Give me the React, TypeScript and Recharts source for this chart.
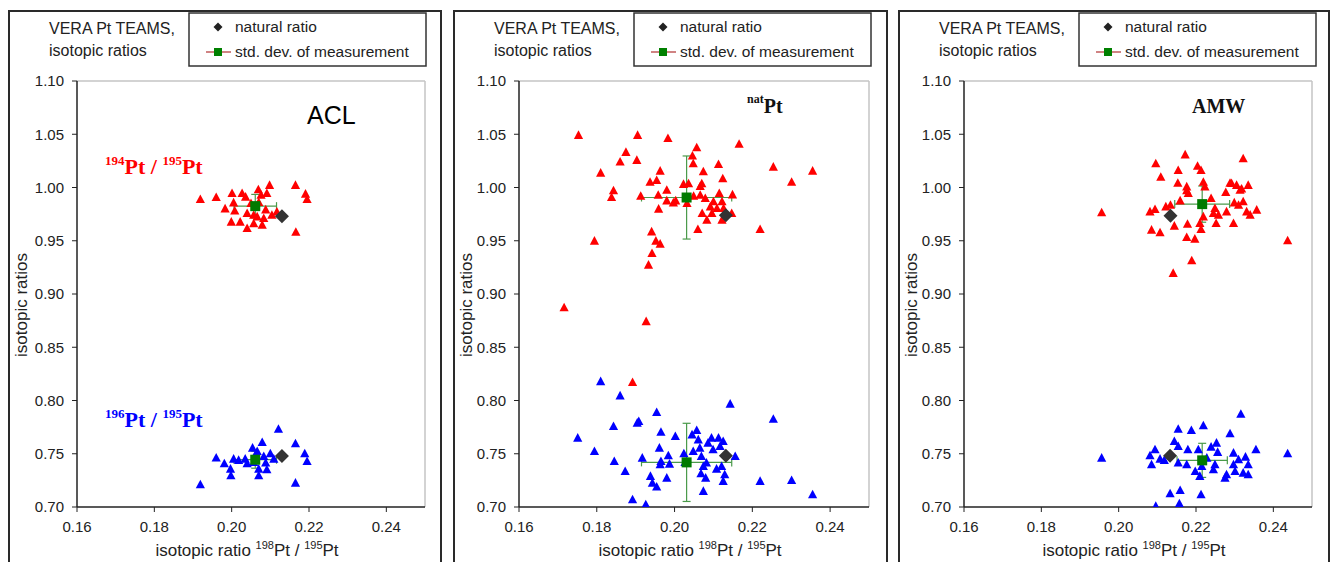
import React from "react";
import { ScatterChart, Scatter, XAxis, YAxis, ErrorBar, ReferenceLine } from "recharts";

type Pt = [number, number];

// ---- ACL ----
const aclRatio194: Pt[] = [
  [0.1919, 0.9888], [0.196, 0.9906], [0.1983, 0.98], [0.2001, 0.9944], [0.2005, 0.9856],
  [0.2008, 0.978], [0.1999, 0.9675], [0.2022, 0.9675], [0.2027, 0.9944], [0.2036, 0.991],
  [0.204, 0.9756], [0.204, 0.9616], [0.2057, 0.966], [0.2066, 0.9725], [0.2069, 0.998],
  [0.2079, 0.9647], [0.2083, 0.971], [0.2088, 0.979], [0.2091, 0.9944], [0.2098, 1.002],
  [0.2076, 0.9928], [0.2104, 0.974], [0.2117, 0.977], [0.2165, 1.002], [0.2191, 0.9938],
  [0.2195, 0.9888], [0.2166, 0.958], [0.2057, 0.974], [0.205, 0.985], [0.207, 0.986],
];
const aclRatio196: Pt[] = [
  [0.1919, 0.7209], [0.196, 0.746], [0.1981, 0.7406], [0.1997, 0.7356], [0.1998, 0.7294],
  [0.2005, 0.745], [0.2018, 0.7438], [0.2035, 0.745], [0.204, 0.7406], [0.2054, 0.7553],
  [0.2066, 0.7522], [0.207, 0.7356], [0.207, 0.7294], [0.2079, 0.7606], [0.2083, 0.7475],
  [0.2088, 0.7413], [0.2091, 0.735], [0.21, 0.75], [0.2109, 0.745], [0.2121, 0.7731],
  [0.2165, 0.7594], [0.2189, 0.75], [0.2195, 0.7428], [0.2165, 0.7225], [0.2057, 0.7419],
];
const aclMean = [
  { x: 0.2061, y: 0.9825, ex: 0.0055, ey: 0.011 },
  { x: 0.2061, y: 0.7444, ex: 0.0055, ey: 0.008 },
];
const aclNatural: Pt[] = [[0.213, 0.9731], [0.213, 0.748]];

// ---- natPt ----
const natRatio194: Pt[] = [
  [0.1753, 1.049], [0.181, 1.0135], [0.186, 1.024], [0.1875, 1.033], [0.1903, 1.0255],
  [0.1905, 1.049], [0.1963, 1.0154], [0.1983, 1.046], [0.1937, 1.005], [0.1954, 1.0066],
  [0.2046, 1.0296], [0.2048, 1.0223], [0.2057, 1.0374], [0.2074, 1.0148], [0.2113, 1.0217],
  [0.2124, 1.0082], [0.2166, 1.0406], [0.2254, 1.0192], [0.2301, 1.005], [0.2355, 1.0154],
  [0.1843, 0.997], [0.2036, 1.0035], [0.207, 1.0035],
  [0.1838, 0.9906], [0.1913, 0.9919], [0.1958, 0.9928], [0.198, 0.9975], [0.198, 0.9875],
  [0.1997, 0.9856], [0.2003, 0.9875], [0.2023, 1.003], [0.2032, 0.985], [0.2049, 0.9919],
  [0.2066, 1.001], [0.2066, 0.9928], [0.2071, 0.9756], [0.2079, 0.9897], [0.2083, 0.9694],
  [0.2092, 0.9819], [0.2096, 0.9756], [0.21, 0.9866], [0.2109, 0.9803], [0.2115, 0.9944],
  [0.2122, 0.9866], [0.2122, 0.9694], [0.2126, 0.9803], [0.2149, 0.9931], [0.2147, 0.9756],
  [0.1959, 0.9797], [0.1941, 0.9584], [0.1952, 0.9497], [0.1963, 0.9469], [0.1942, 0.9381],
  [0.1933, 0.9272], [0.1794, 0.9497], [0.1716, 0.8872], [0.1927, 0.8741], [0.206, 0.9606],
  [0.222, 0.9606], [0.1892, 0.8169],
];
const natRatio196: Pt[] = [
  [0.181, 0.8178], [0.186, 0.8044], [0.1954, 0.7888], [0.1904, 0.7788], [0.1908, 0.7803],
  [0.1843, 0.7756], [0.1751, 0.7647], [0.1794, 0.7522], [0.1845, 0.7428], [0.1873, 0.7334],
  [0.1917, 0.7459], [0.1938, 0.7288], [0.1943, 0.7225], [0.1954, 0.7188], [0.1961, 0.7553],
  [0.1965, 0.7703], [0.1963, 0.7397], [0.1965, 0.7428], [0.1984, 0.7481], [0.1987, 0.7403],
  [0.198, 0.7272], [0.2002, 0.7663], [0.2024, 0.75], [0.2048, 0.7522], [0.2045, 0.7678],
  [0.2057, 0.7719], [0.2061, 0.7631], [0.2065, 0.7553], [0.2069, 0.7475], [0.2068, 0.7313],
  [0.2074, 0.7381], [0.2074, 0.7147], [0.208, 0.7272], [0.2082, 0.7413], [0.2086, 0.76],
  [0.2095, 0.7647], [0.2099, 0.7538], [0.2108, 0.7356], [0.2113, 0.7647], [0.2117, 0.7569],
  [0.2121, 0.7381], [0.2125, 0.7616], [0.2129, 0.7303], [0.2125, 0.7241], [0.2143, 0.7966],
  [0.2156, 0.7475], [0.222, 0.7241], [0.2254, 0.7825], [0.2301, 0.725], [0.2355, 0.7116],
  [0.1892, 0.7069], [0.1926, 0.7022], [0.2027, 0.7419],
];
const natMean = [
  { x: 0.2031, y: 0.9906, ex: 0.0116, ey: 0.039 },
  { x: 0.2031, y: 0.7419, ex: 0.0116, ey: 0.0367 },
];
const natNatural: Pt[] = [[0.2132, 0.974], [0.2132, 0.7481]];

// ---- AMW ----
const amwRatio194: Pt[] = [
  [0.2096, 1.0223], [0.2109, 1.0097], [0.2172, 1.0307], [0.2154, 1.016], [0.2153, 1.004],
  [0.2176, 0.997], [0.2204, 1.02], [0.2213, 1.016], [0.2219, 1.005], [0.2288, 1.004],
  [0.2305, 1.002], [0.2318, 0.9987], [0.2322, 1.027], [0.2335, 1.002],
  [0.1956, 0.9763], [0.2081, 0.9772], [0.2094, 0.9794], [0.2085, 0.96], [0.2107, 0.9575],
  [0.2122, 0.9819], [0.2134, 0.9834], [0.2144, 0.9638], [0.2159, 0.9875], [0.2176, 1.0006],
  [0.218, 0.9944], [0.2178, 0.9656], [0.2176, 0.9531], [0.2197, 0.9516], [0.2189, 0.9313],
  [0.2141, 0.9194], [0.221, 0.9663], [0.2213, 0.9606], [0.2219, 0.9725], [0.2223, 1.0006],
  [0.2239, 0.9897], [0.2245, 0.9756], [0.2249, 0.9803], [0.2252, 0.9663], [0.2258, 0.9741],
  [0.2277, 0.9953], [0.2279, 0.9772], [0.2292, 1.0038], [0.2299, 0.9856], [0.2297, 0.9663],
  [0.231, 0.9834], [0.2314, 0.9975], [0.2322, 0.9866], [0.2331, 0.9772], [0.234, 0.9741],
  [0.2357, 0.9788], [0.2437, 0.95],
];
const amwRatio196: Pt[] = [
  [0.1956, 0.7459], [0.2081, 0.7481], [0.2085, 0.7397], [0.2094, 0.7538], [0.2096, 0.7006],
  [0.2107, 0.745], [0.2133, 0.7125], [0.2144, 0.7616], [0.2154, 0.7731], [0.2154, 0.7569],
  [0.2154, 0.7413], [0.2159, 0.7156], [0.2157, 0.7031], [0.2176, 0.7397], [0.2179, 0.7538],
  [0.2188, 0.7719], [0.2198, 0.7334], [0.2206, 0.7538], [0.221, 0.7288], [0.2213, 0.7116],
  [0.2219, 0.7763], [0.2215, 0.7381], [0.2228, 0.7459], [0.2239, 0.7563], [0.2245, 0.735],
  [0.2249, 0.7397], [0.2253, 0.76], [0.2256, 0.7513], [0.2275, 0.7272], [0.2279, 0.7303],
  [0.2288, 0.7688], [0.2297, 0.7506], [0.2297, 0.7397], [0.2301, 0.7334], [0.231, 0.7444],
  [0.2316, 0.7872], [0.2322, 0.7319], [0.2328, 0.7469], [0.2335, 0.7397], [0.2335, 0.7303],
  [0.2355, 0.7538], [0.2437, 0.75], [0.2118, 0.7438],
];
const amwMean = [
  { x: 0.2216, y: 0.9844, ex: 0.0071, ey: 0.017 },
  { x: 0.2216, y: 0.7438, ex: 0.0065, ey: 0.016 },
];
const amwNatural: Pt[] = [[0.2134, 0.9734], [0.2133, 0.7481]];

const xTicks = [0.16, 0.18, 0.2, 0.22, 0.24];
const yTicks = [0.7, 0.75, 0.8, 0.85, 0.9, 0.95, 1.0, 1.05, 1.1];

const SANS = "Arial, 'Liberation Sans', sans-serif";
const SERIF = "'Times New Roman', 'Liberation Serif', serif";

const toXY = (a: Pt[]) => a.map(([x, y]) => ({ x, y }));

const triangle = (color: string) => (p: any) => (
  <polygon
    points={`${p.cx},${p.cy - 5} ${p.cx - 4.6},${p.cy + 3.6} ${p.cx + 4.6},${p.cy + 3.6}`}
    fill={color}
  />
);
const diamond = (p: any) => (
  <polygon
    points={`${p.cx},${p.cy - 7} ${p.cx + 7},${p.cy} ${p.cx},${p.cy + 7} ${p.cx - 7},${p.cy}`}
    fill="#333"
  />
);
const square = (p: any) => <rect x={p.cx - 5} y={p.cy - 5} width={10} height={10} fill="#007a00" />;

const panels = [
  { left: 8, width: 434, plotLeft: 77, plotRight: 425, red: aclRatio194, blue: aclRatio196, mean: aclMean, nat: aclNatural, tag: "ACL" },
  { left: 453, width: 435, plotLeft: 519, plotRight: 869, red: natRatio194, blue: natRatio196, mean: natMean, nat: natNatural, tag: "nat" },
  { left: 898, width: 432, plotLeft: 964, plotRight: 1312, red: amwRatio194, blue: amwRatio196, mean: amwMean, nat: amwNatural, tag: "AMW" },
];

function Panel({ cfg }: { cfg: (typeof panels)[number] }) {
  const chartLeft = cfg.plotLeft - 70;
  const chartWidth = cfg.plotRight - chartLeft + 10;
  const ox = cfg.left;
  const plotMid = (cfg.plotLeft + cfg.plotRight) / 2 - ox - 4;
  return (
    <>
      <div
        style={{
          position: "absolute", left: cfg.left, top: 10, width: cfg.width, height: 600,
          border: "2px solid #2a2a2a", boxSizing: "border-box",
        }}
      />
      <div style={{ position: "absolute", left: chartLeft, top: 0 }}>
        <ScatterChart width={chartWidth} height={562} margin={{ top: 81, right: 10, bottom: 25, left: 0 }}>
          <XAxis
            type="number" dataKey="x" domain={[0.16, 0.25]} ticks={xTicks} allowDataOverflow
            tickFormatter={(v: number) => v.toFixed(2)} height={30} tickSize={5} tickMargin={9}
            axisLine={{ stroke: "#222", strokeWidth: 1.5 }} tickLine={{ stroke: "#222" }}
            tick={{ fill: "#222", fontSize: 15, fontFamily: SANS }}
          />
          <YAxis
            type="number" dataKey="y" domain={[0.7, 1.1]} ticks={yTicks} allowDataOverflow
            tickFormatter={(v: number) => v.toFixed(2)} width={70} tickSize={5} tickMargin={8}
            axisLine={{ stroke: "#222", strokeWidth: 1.5 }} tickLine={{ stroke: "#222" }}
            tick={{ fill: "#222", fontSize: 15, fontFamily: SANS }}
          />
          <ReferenceLine y={1.1} stroke="#c4c4c4" strokeWidth={1.5} />
          <ReferenceLine x={0.25} stroke="#c4c4c4" strokeWidth={1.5} />
          <Scatter data={toXY(cfg.red)} shape={triangle("#ff0000")} isAnimationActive={false} />
          <Scatter data={toXY(cfg.blue)} shape={triangle("#0000ff")} isAnimationActive={false} />
          <Scatter data={toXY(cfg.nat)} shape={diamond} isAnimationActive={false} />
          <Scatter data={cfg.mean} shape={square} isAnimationActive={false}>
            <ErrorBar dataKey="ex" direction="x" width={4} stroke="#4a9a4a" strokeWidth={1.2} isAnimationActive={false} />
            <ErrorBar dataKey="ey" direction="y" width={4} stroke="#4a9a4a" strokeWidth={1.2} isAnimationActive={false} />
          </Scatter>
        </ScatterChart>
      </div>
      <svg
        width={cfg.width} height={562}
        style={{ position: "absolute", left: ox, top: 0, pointerEvents: "none", overflow: "visible" }}
      >
        <g fontFamily={SANS} fill="#222" fontSize={16}>
          <text x={41} y={34}>VERA Pt TEAMS,</text>
          <text x={41} y={56}>isotopic ratios</text>
        </g>
        <rect x={181} y={13} width={237} height={53} fill="#fff" stroke="#333" strokeWidth={1.5} />
        <polygon points="210,22.5 214.5,27 210,31.5 205.5,27" fill="#222" />
        <line x1={198} y1={52} x2={223} y2={52} stroke="#b03030" strokeWidth={1.2} />
        <rect x={206} y={48} width={8} height={8} fill="#008000" />
        <g fontFamily={SANS} fill="#222" fontSize={15.5}>
          <text x={227} y={32}>natural ratio</text>
          <text x={227} y={57}>std. dev. of measurement</text>
        </g>
        <text
          transform="translate(19,305) rotate(-90)" textAnchor="middle"
          fontFamily={SANS} fontSize={17} fill="#222"
        >
          isotopic ratios
        </text>
        <text x={plotMid} y={556} textAnchor="middle" fontFamily={SANS} fontSize={17} fill="#222">
          isotopic ratio <tspan fontSize={11} dy={-7}>198</tspan>
          <tspan dy={7}>Pt / </tspan>
          <tspan fontSize={11} dy={-7}>195</tspan>
          <tspan dy={7}>Pt</tspan>
        </text>
        {cfg.tag === "ACL" && (
          <>
            <text x={299} y={124} fontFamily={SANS} fontSize={25} fill="#000">ACL</text>
            <text x={97} y={174} fontFamily={SERIF} fontWeight="bold" fontSize={22} fill="#ff0000">
              <tspan fontSize={13} dy={-9}>194</tspan>
              <tspan dy={9}>Pt / </tspan>
              <tspan fontSize={13} dy={-9}>195</tspan>
              <tspan dy={9}>Pt</tspan>
            </text>
            <text x={97} y={427} fontFamily={SERIF} fontWeight="bold" fontSize={22} fill="#0000ff">
              <tspan fontSize={13} dy={-9}>196</tspan>
              <tspan dy={9}>Pt / </tspan>
              <tspan fontSize={13} dy={-9}>195</tspan>
              <tspan dy={9}>Pt</tspan>
            </text>
          </>
        )}
        {cfg.tag === "nat" && (
          <text x={294} y={113} fontFamily={SERIF} fontWeight="bold" fontSize={20} fill="#111">
            <tspan fontSize={12} dy={-10}>nat</tspan>
            <tspan dy={10}>Pt</tspan>
          </text>
        )}
        {cfg.tag === "AMW" && (
          <text x={294} y={113} fontFamily={SERIF} fontWeight="bold" fontSize={20} fill="#111">AMW</text>
        )}
      </svg>
    </>
  );
}

export default function App() {
  return (
    <div
      style={{
        position: "absolute", left: 0, top: 0, width: 1331, height: 562,
        overflow: "hidden", background: "#fff",
      }}
    >
      {panels.map((p) => (
        <Panel key={p.tag} cfg={p} />
      ))}
    </div>
  );
}
